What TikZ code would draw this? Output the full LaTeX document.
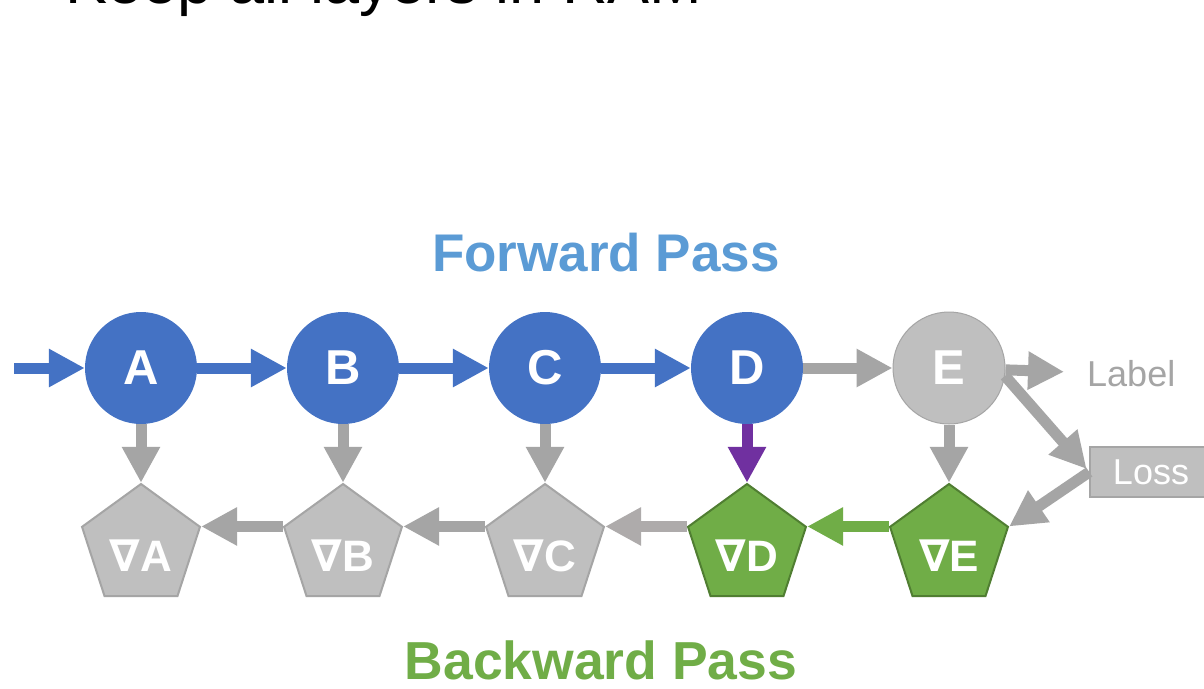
\documentclass[tikz,border=0pt]{standalone}
\usepackage{fontspec}
\setmainfont{Liberation Sans}
\newfontfamily\dvfont{DejaVu Sans}
\usetikzlibrary{arrows.meta,shapes.geometric}

\definecolor{layerblue}{HTML}{4472C4}
\definecolor{headblue}{HTML}{5B9BD5}
\definecolor{gradgreen}{HTML}{70AD47}
\definecolor{gradgreenedge}{HTML}{507E32}
\definecolor{linkgray}{HTML}{A5A5A5}
\definecolor{idlegray}{HTML}{BFBFBF}
\definecolor{warmgray}{HTML}{AEABAB}
\definecolor{memviolet}{HTML}{7030A0}

\newcommand{\fsz}[1]{\fontsize{#1}{#1}\selectfont}
\newcommand{\gradof}[1]{{\dvfont\bfseries ∇}#1}

\tikzset{
  layer/.style={circle, minimum size=112pt, inner sep=0pt, fill=layerblue,
    text=white, font=\fsz{49}\bfseries},
  idlelayer/.style={layer, fill=idlegray, draw=linkgray, line width=1pt},
  grad/.style={regular polygon, regular polygon sides=5, minimum size=124pt,
    inner sep=0pt, fill=idlegray, draw=linkgray, line width=2pt},
  gradlive/.style={grad, fill=gradgreen, draw=gradgreenedge},
  gradtext/.style={text=white, font=\fsz{44}\bfseries, yshift=-10pt},
  flow/.style={line width=11pt, -{Triangle[length=36pt,width=36pt]}},
  fwd/.style={flow, draw=layerblue},
  link/.style={flow, draw=linkgray},
}

\begin{document}
\begin{tikzpicture}[x=1pt, y=-1pt]
\useasboundingbox (0,0) rectangle (1204,688);
\fill[white] (0,0) rectangle (1204,688);

% slide title, running off the top edge
\node[anchor=base west, inner sep=0pt, font=\fsz{63}] (title) at (65,4) {Keep all layers in RAM};

% section headings
\node[anchor=base, inner sep=0pt, text=headblue, font=\fsz{53}\bfseries] (fwdhead) at (606,271) {Forward Pass};
\node[anchor=base, inner sep=0pt, text=gradgreen, font=\fsz{53.5}\bfseries] (bwdhead) at (601,679) {Backward Pass};

% layers
\node[layer] (A) at (141,368) {A};
\node[layer] (B) at (343,368) {B};
\node[layer] (C) at (545,368) {C};
\node[layer] (D) at (747,368) {D};
\node[idlelayer] (E) at (949,368) {E};

% gradients
\node[grad, label={[gradtext]center:\gradof{A}}] (gA) at (141,546) {};
\node[grad, label={[gradtext]center:\gradof{B}}] (gB) at (343,546) {};
\node[grad, label={[gradtext]center:\gradof{C}}] (gC) at (545,546) {};
\node[gradlive, label={[gradtext]center:\gradof{D}}] (gD) at (747,546) {};
\node[gradlive, label={[gradtext]center:\gradof{E}}] (gE) at (949,546) {};

% label and loss
\node[anchor=west, inner sep=0pt, text=linkgray, font=\fsz{36}] (Label) at (1087,374) {Label};
\node[rectangle, minimum width=122pt, minimum height=50pt, inner sep=0pt,
  fill=idlegray, draw=linkgray, line width=1.5pt, text=white, font=\fsz{36}] (Loss) at (1151,472) {Loss};

% forward pass
\coordinate (in) at (14,368);
\draw[fwd] (in) -- (A);
\draw[fwd] (A) -- (B);
\draw[fwd] (B) -- (C);
\draw[fwd] (C) -- (D);
\draw[link] (D) -- (E);
\draw[link, shorten >=23pt] (E) -- (Label);
\draw[link, shorten >=4pt] (E.-8) -- (Loss.west);

% activations to gradients
\draw[link] (A.south) -- (gA.corner 1);
\draw[link] (B.south) -- (gB.corner 1);
\draw[link] (C.south) -- (gC.corner 1);
\draw[flow, draw=memviolet] (D.south) -- (gD.corner 1);
\draw[link] (E.south) -- (gE.corner 1);

% backward pass
\draw[link] (Loss.west) -- (gE.corner 5);
\draw[flow, draw=gradgreen] (gE.corner 2) -- (gD.corner 5);
\draw[flow, draw=warmgray] (gD.corner 2) -- (gC.corner 5);
\draw[link] (gC.corner 2) -- (gB.corner 5);
\draw[link] (gB.corner 2) -- (gA.corner 5);
\end{tikzpicture}
\end{document}
